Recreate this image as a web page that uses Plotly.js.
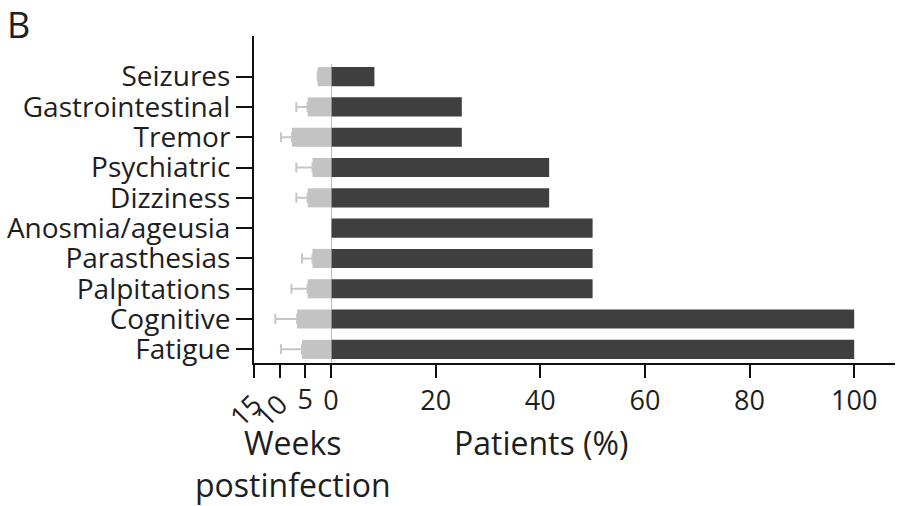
<!DOCTYPE html>
<html>
<head>
<meta charset="utf-8">
<script src="https://cdn.plot.ly/plotly-3.0.1.min.js"></script>
<style>html,body{margin:0;padding:0;background:#fff;}#chart{width:897px;height:506px;}</style>
</head>
<body>
<div id="chart"></div>
<script>
// Data (bottom to top)
const categories = ['Fatigue','Cognitive','Palpitations','Parasthesias','Anosmia/ageusia','Dizziness','Psychiatric','Tremor','Gastrointestinal','Seizures'];
const patientsPct = [100, 100, 50, 50, 50, 41.7, 41.7, 25, 25, 8.3];
const weeksMean = [5.65, 6.6, 4.55, 3.6, null, 4.55, 3.6, 7.6, 4.55, 2.6];
const weeksErr = [4.1, 4.25, 3.15, 2.05, null, 2.2, 3.15, 2.15, 2.2, null];
const weekTicksAngled = [15, 10];
const weekTicksUpright = [5];
const patientTicks = [0, 20, 40, 60, 80, 100];

const FONT = '"Open Sans", sans-serif';
const TXT = '#1e1e1e';

const traces = [
  {
    type: 'bar', orientation: 'h', y: categories, x: patientsPct,
    xaxis: 'x', yaxis: 'y',
    marker: {color: '#3f3f3f', line: {width: 0}},
    hoverinfo: 'skip'
  },
  {
    type: 'bar', orientation: 'h', y: categories, x: weeksMean,
    xaxis: 'x2', yaxis: 'y',
    marker: {color: '#c3c3c3', line: {width: 0}},
    error_x: {type: 'data', symmetric: false, array: weeksErr,
      arrayminus: weeksErr.map(() => 0), color: '#c6c6c6', thickness: 2, width: 5},
    hoverinfo: 'skip'
  },
  {
    type: 'scatter', mode: 'markers', x: weekTicksUpright, y: [categories[0]],
    xaxis: 'x3', yaxis: 'y', marker: {opacity: 0}, hoverinfo: 'skip', showlegend: false
  }
];

const axisCommon = {
  showgrid: false, zeroline: false, ticks: 'outside', ticklen: 13, tickwidth: 2,
  tickcolor: '#111', linecolor: '#111', linewidth: 2,
  tickfont: {family: FONT, size: 27, color: TXT}
};

const splitFrac = 77 / 641;

const layout = {
  width: 897, height: 506,
  margin: {l: 254, r: 2, t: 36, b: 143},
  paper_bgcolor: '#fff', plot_bgcolor: '#fff',
  showlegend: false,
  bargap: 0.37,
  barmode: 'overlay',
  xaxis: Object.assign({}, axisCommon, {
    domain: [splitFrac, 1], range: [0, 107.8], anchor: 'y',
    tickmode: 'array', tickvals: patientTicks, ticktext: patientTicks.map(String),
    showline: true
  }),
  xaxis2: Object.assign({}, axisCommon, {
    domain: [0, splitFrac], range: [15, 0], anchor: 'y',
    tickmode: 'array', tickvals: weekTicksAngled.concat(weekTicksUpright),
    ticktext: weekTicksAngled.map(String).concat(weekTicksUpright.map(() => '')),
    tickangle: -45, showline: true
  }),
  xaxis3: Object.assign({}, axisCommon, {
    overlaying: 'x2', range: [15, 0], anchor: 'y', side: 'bottom',
    tickmode: 'array', tickvals: weekTicksUpright, ticktext: weekTicksUpright.map(String),
    tickangle: 0, ticks: 'outside', ticklen: 13, tickcolor: 'rgba(0,0,0,0)', showline: false
  }),
  yaxis: Object.assign({}, axisCommon, {
    anchor: 'x2',
    type: 'category', categoryorder: 'array', categoryarray: categories,
    tickmode: 'array', tickvals: categories, ticktext: categories,
    tickfont: {family: FONT, size: 28, color: TXT},
    range: [-0.45, 10.34], showline: true, ticklen: 16, ticklabelstandoff: 0
  }),
  shapes: [
    {type: 'line', xref: 'x', yref: 'y', x0: 0, x1: 0, y0: -0.45, y1: 9.42,
     line: {color: '#a8a8a8', width: 1.5}, layer: 'above'}
  ],
  annotations: [
    {text: 'B', xref: 'paper', yref: 'paper', x: -254/641 + 5/641, y: 1 + 38/327, xanchor: 'left', yanchor: 'top',
     showarrow: false, font: {family: FONT, size: 36, color: TXT}},
    {text: 'Weeks<br>postinfection', xref: 'paper', yref: 'paper', x: (293 - 254) / 641, y: -(463 - 363) / 327,
     xanchor: 'center', yanchor: 'middle', showarrow: false,
     font: {family: FONT, size: 32, color: TXT}},
    {text: 'Patients (%)', xref: 'paper', yref: 'paper', x: (541 - 254) / 641, y: -(442 - 363) / 327,
     xanchor: 'center', yanchor: 'middle', showarrow: false,
     font: {family: FONT, size: 32, color: TXT}}
  ]
};

Plotly.newPlot('chart', traces, layout, {displayModeBar: false, staticPlot: true});
</script>
</body>
</html>
